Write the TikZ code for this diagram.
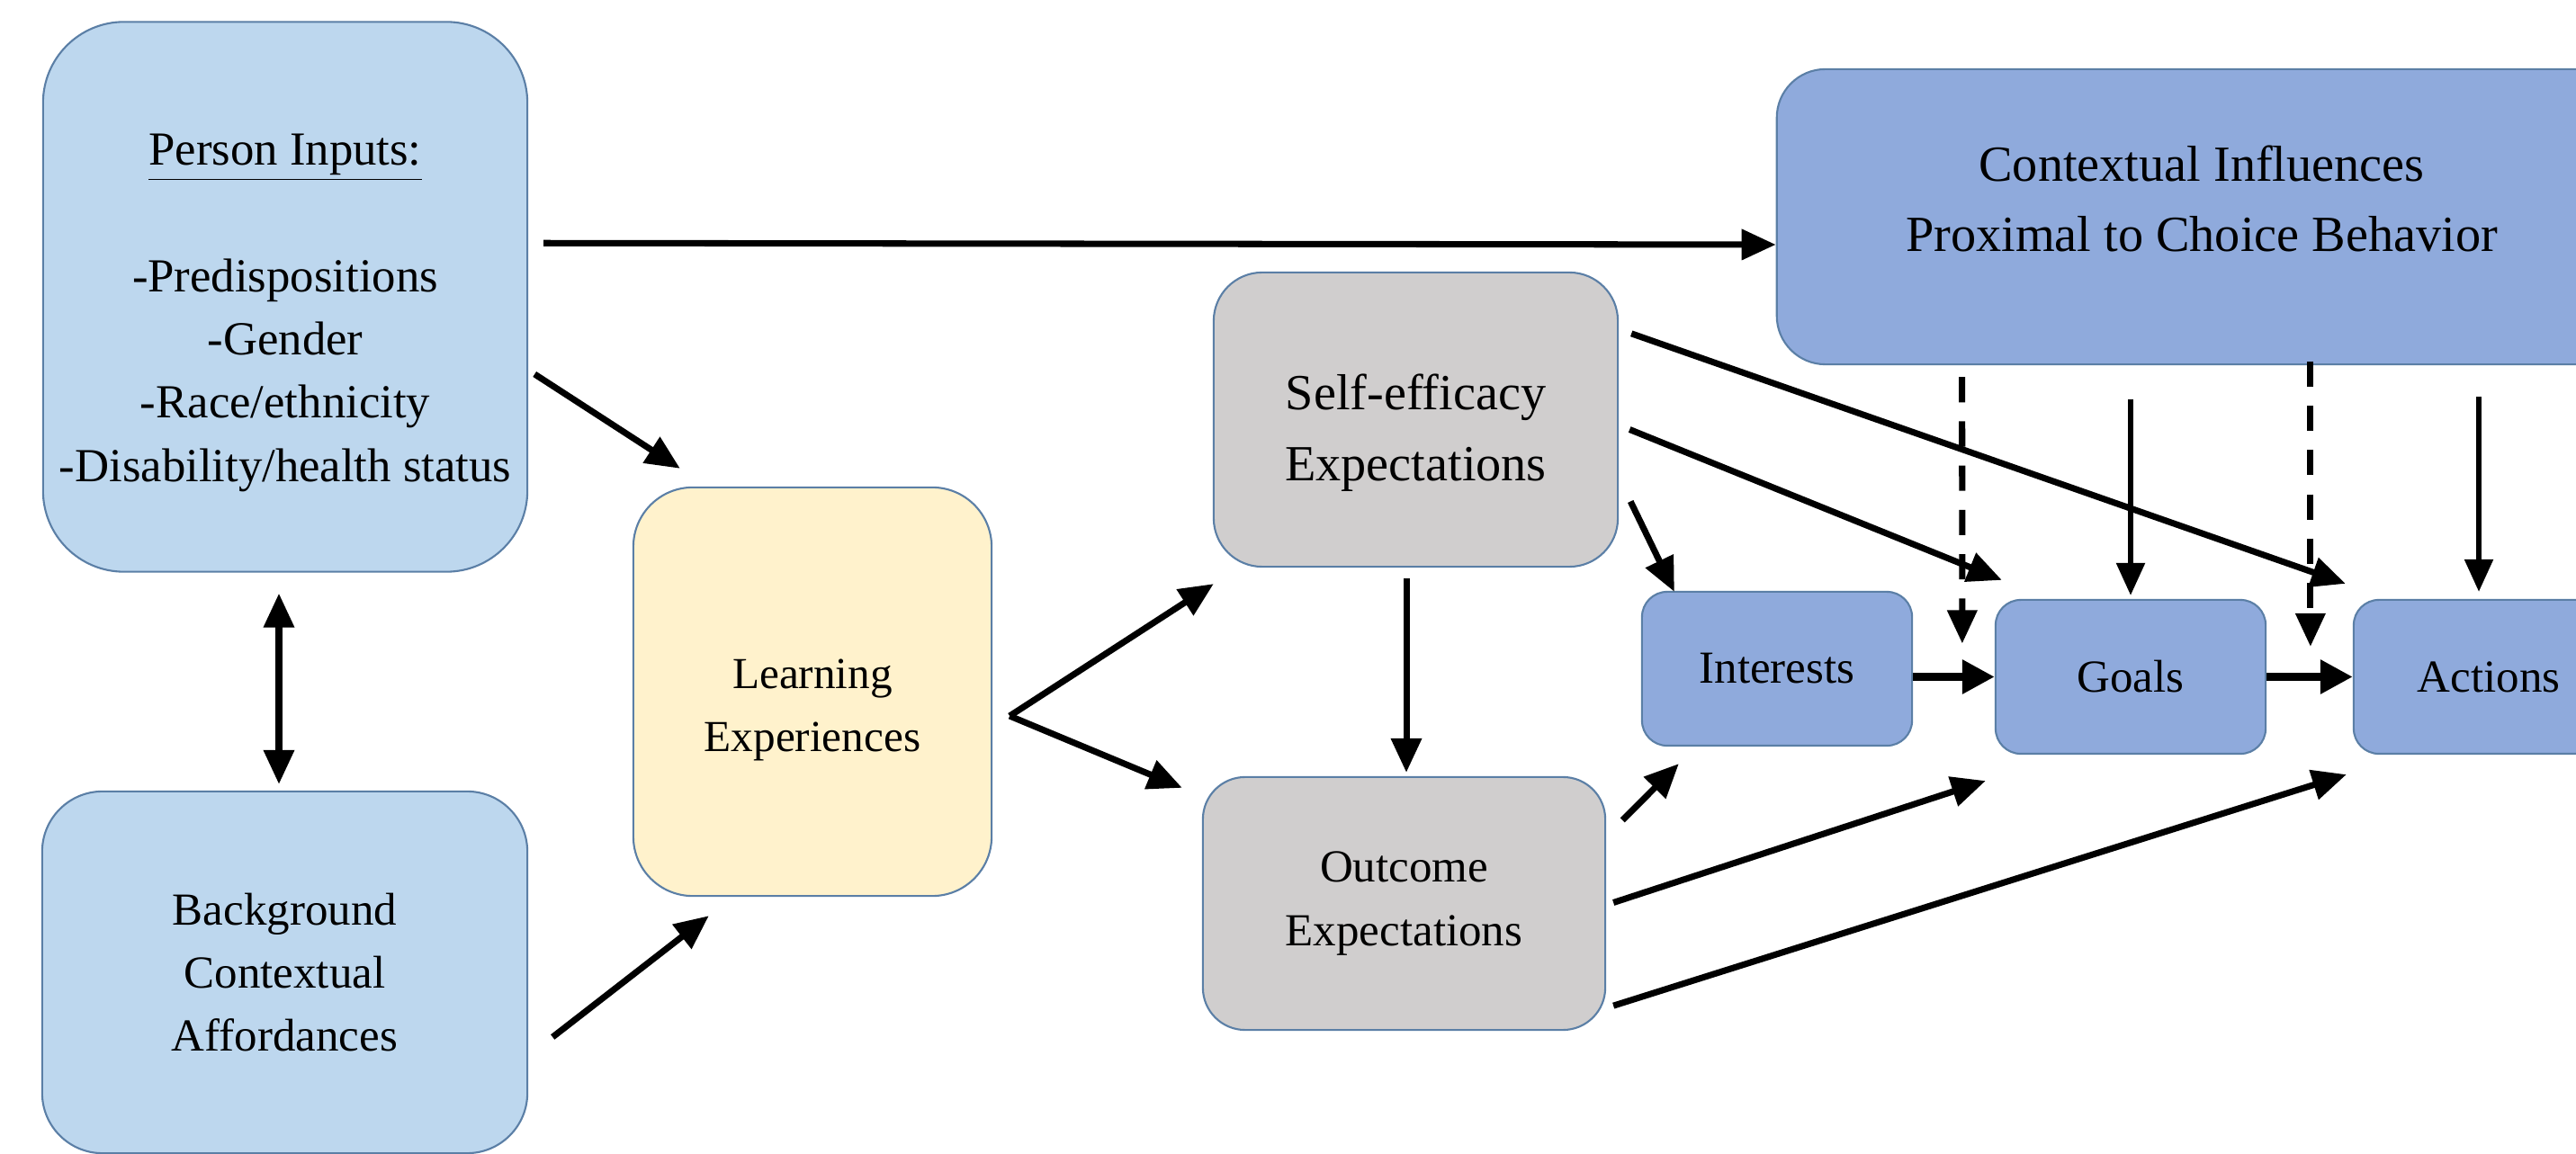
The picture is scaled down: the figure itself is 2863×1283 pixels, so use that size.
\documentclass[tikz,border=0pt]{standalone}
\usepackage{fontspec}
\setmainfont{Liberation Serif}
\usetikzlibrary{arrows.meta}
\definecolor{lightblue}{HTML}{BDD7EE}
\definecolor{midblue}{HTML}{8FAADC}
\definecolor{paleyellow}{HTML}{FFF2CC}
\definecolor{boxgray}{HTML}{D0CECE}
\definecolor{edgeblue}{HTML}{5B7FA6}

\begin{document}
\begin{tikzpicture}[x=0.01cm, y=-0.01cm,
      every node/.append style={draw=edgeblue,line width=0.6pt,align=center,inner sep=0pt},
      arr/.style={line width=2pt,-{Triangle[length=3.8mm,width=3.3mm]}},
      both arr/.style={line width=2pt,{Triangle[length=3.8mm,width=3.3mm]}-{Triangle[length=3.8mm,width=3.3mm]}},
      thin arr/.style={line width=1.6pt,-{Triangle[length=3.6mm,width=3.1mm]}},
      thick arr/.style={line width=2.6pt,-{Triangle[length=3.6mm,width=3.6mm]}}]
    \tikzstyle{lightbox} = [fill=lightblue]
    \tikzstyle{graybox} = [fill=boxgray,font=\fontsize{14.5pt}{20pt}\selectfont]
    \tikzstyle{stepbox} = [fill=midblue,minimum width=3cm,minimum height=1.71cm,rounded corners=0.28cm,font=\fontsize{14.5pt}{20pt}\selectfont]
    \tikzstyle{dashed arr} = [line width=2pt,dash pattern=on 8pt off 6pt,-{Triangle[length=3.7mm,width=3.2mm]}]
    \useasboundingbox (0,0) rectangle (2863,1283);
    \clip (0,0) rectangle (2863,1283);
    \node (person) [lightbox,minimum width=5.38cm,minimum height=6.11cm,rounded corners=0.9cm,font=\fontsize{15pt}{20pt}\selectfont] at (317,330)
      {\rule{0pt}{20pt}\underline{Person Inputs:}\\[20pt]-Predispositions\\-Gender\\-Race/ethnicity\\-Disability/health status};
    \node (backgr) [lightbox,minimum width=5.39cm,minimum height=4.02cm,rounded corners=0.67cm,font=\fontsize{14.5pt}{20pt}\selectfont] at (316.5,1081)
      {Background\\Contextual\\Affordances};
    \node (learn) [fill=paleyellow,minimum width=3.98cm,minimum height=4.54cm,rounded corners=0.66cm,font=\fontsize{14pt}{20pt}\selectfont] at (903,769)
      {\rule{0pt}{21pt}Learning\\Experiences};
    \node (selfeff) [graybox,minimum width=4.49cm,minimum height=3.27cm,rounded corners=0.54cm,font=\fontsize{16pt}{22.5pt}\selectfont] at (1573.5,466.5)
      {\rule{0pt}{19.5pt}Self-efficacy\\Expectations};
    \node (outcome) [graybox,minimum width=4.47cm,minimum height=2.81cm,rounded corners=0.47cm] at (1560.5,1004.5)
      {Outcome\\Expectations};
    \node (interests) [stepbox] at (1975,743.5) {Interests};
    \node (goals) [stepbox] at (2368,752.5) {Goals};
    \node (actions) [stepbox] at (2766,752.5) {Actions};
    \node (context) [fill=midblue,minimum width=9.44cm,minimum height=3.28cm,rounded corners=0.54cm,font=\fontsize{16pt}{22pt}\selectfont] at (2447,241)
      {Contextual Influences\\Proximal to Choice Behavior\rule[-11.5pt]{0pt}{0pt}};
    \draw[arr] ([shift={(17,247)}]person.north east) -- ([shift={(0,31)}]context.west);
    \draw[arr] ([shift={(7,86)}]person.east) -- ([shift={(53,-20)}]learn.north west);
    \draw[both arr] ([shift={(-7,23)}]person.south) -- ([shift={(-6.5,-7)}]backgr.north);
    \draw[arr] ([shift={(27,72)}]backgr.east) -- ([shift={(85,21)}]learn.south west);
    \draw[arr] ([shift={(19,27)}]learn.east) -- ([shift={(1,18)}]selfeff.south west);
    \draw[arr] ([shift={(19,27)}]learn.east) -- ([shift={(-22,13)}]outcome.north west);
    \draw[arr] ([shift={(-10.5,12)}]selfeff.south) -- ([shift={(2.5,-4)}]outcome.north);
    \draw[arr] ([shift={(13,91)}]selfeff.east) -- ([shift={(37,1)}]interests.north west);
    \draw[arr] ([shift={(12,11)}]selfeff.east) -- ([shift={(8,-21)}]goals.north west);
    \draw[arr] ([shift={(14,69)}]selfeff.north east) -- ([shift={(-8,-17)}]actions.north west);
    \draw[arr] ([shift={(18,49)}]outcome.north east) -- ([shift={(42,19)}]interests.south west);
    \draw[arr] ([shift={(8,-1)}]outcome.east) -- ([shift={(-10,29)}]goals.south west);
    \draw[arr] ([shift={(8,-28)}]outcome.south east) -- ([shift={(-7,22)}]actions.south west);
    \draw[thick arr] (goals.west -| interests.east) -- (goals.west);
    \draw[thick arr] (goals.east) -- (actions.west);
    \draw[dashed arr] ([shift={(207,13)}]context.south west) -- ([shift={(-36,-37)}]goals.west);
    \draw[thin arr] ([shift={(0,-222)}]goals.north) -- ([shift={(0,-4)}]goals.north);
    \draw[dashed arr] ([shift={(-47,-264)}]actions.north west) -- ([shift={(-47,53)}]actions.north west);
    \draw[thin arr] ([shift={(-11,-225)}]actions.north) -- ([shift={(-11,-8)}]actions.north);
\end{tikzpicture}
\end{document}
